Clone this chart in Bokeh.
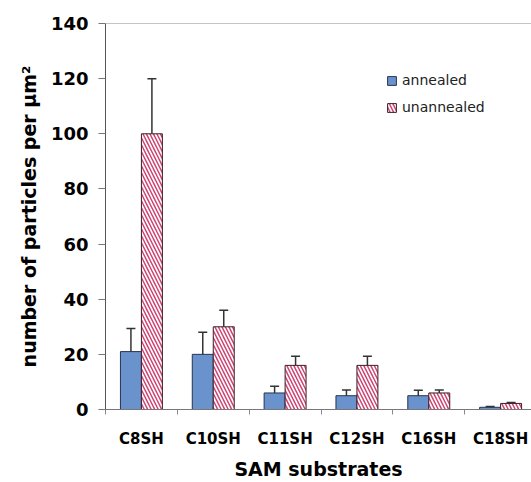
import numpy as np
from bokeh.plotting import figure
from bokeh.models import (ColumnDataSource, Range1d, FixedTicker, Whisker, TeeHead, Span)
from bokeh.transform import dodge
from bokeh.embed import file_html
from bokeh.resources import INLINE

categories = ["C8SH", "C10SH", "C11SH", "C12SH", "C16SH", "C18SH"]
annealed = [21, 20, 6, 5, 5, 0.8]
annealed_err = [8.4, 8, 2.4, 2.1, 2, 0.3]
unannealed = [100, 30, 16, 16, 6, 2.2]
unannealed_err = [20, 6, 3.3, 3.3, 1.1, 0.3]
y_ticks = [0, 20, 40, 60, 80, 100, 120, 140]

FONT = "DejaVu Sans"
BLUE = "#6a92cc"
HATCH = "#cf4573"

x = np.arange(len(categories)) + 0.5
a = np.array(annealed, float); ae = np.array(annealed_err, float)
u = np.array(unannealed, float); ue = np.array(unannealed_err, float)
src = ColumnDataSource(dict(x=x, a=a, u=u, a_lo=a - ae, a_hi=a + ae, u_lo=u - ue, u_hi=u + ue))

p = figure(width=531, height=482, output_backend="svg", toolbar_location=None,
           x_range=Range1d(0, 5.93), y_range=Range1d(0, 140),
           min_border_left=105, min_border_top=23, min_border_right=0, min_border_bottom=73)
p.outline_line_color = None
p.xgrid.visible = False
p.ygrid.visible = False
p.background_fill_color = "white"

off = 0.146
bw = 0.292
p.vbar(x=dodge("x", -off), top="a", width=bw, source=src, fill_color=BLUE,
       line_color="#27344f", line_width=1, legend_label="annealed")
p.vbar(x=dodge("x", off), top="u", width=bw, source=src, fill_color="white",
       hatch_pattern="\\", hatch_color=HATCH, hatch_scale=7, hatch_weight=1.5,
       line_color="#3a1f2a", line_width=1, legend_label="unannealed")

for fld, lo, hi in [(-off, "a_lo", "a_hi"), (off, "u_lo", "u_hi")]:
    w = Whisker(source=src, base=dodge("x", fld), lower=lo, upper=hi,
                line_color="#333333", line_width=1.5,
                lower_head=TeeHead(size=9, line_color="#333333", line_width=1.5),
                upper_head=TeeHead(size=9, line_color="#333333", line_width=1.5))
    p.add_layout(w)

p.add_layout(Span(location=y_ticks[-1], dimension="width", line_color="#8a8a8a", line_width=1))

# y axis
yax = p.yaxis[0]
yax.ticker = FixedTicker(ticks=y_ticks)
yax.minor_tick_line_color = None
yax.major_tick_out = 7
yax.major_tick_in = 0
yax.major_label_standoff = 10
yax.axis_line_color = "#555555"
yax.major_tick_line_color = "#777777"
yax.major_label_text_font = FONT
yax.major_label_text_font_style = "bold"
yax.major_label_text_font_size = "18px"
yax.major_label_text_color = "black"
yax.axis_label = "number of particles per \u03bcm\u00b2"
yax.axis_label_text_font = FONT
yax.axis_label_text_font_style = "bold"
yax.axis_label_text_font_size = "19px"
yax.axis_label_text_color = "black"
yax.axis_label_standoff = 8

# x axis
xax = p.xaxis[0]
xax.ticker = FixedTicker(ticks=list(x), minor_ticks=list(range(len(categories) + 1)))
xax.major_label_overrides = {float(v): c for v, c in zip(x, categories)}
xax.major_tick_out = 0
xax.major_tick_in = 0
xax.minor_tick_out = 5
xax.minor_tick_in = 0
xax.minor_tick_line_color = "#888888"
xax.axis_line_color = "#777777"
xax.major_label_standoff = 15
xax.major_label_text_font = FONT
xax.major_label_text_font_style = "bold"
xax.major_label_text_font_size = "15px"
xax.major_label_text_color = "black"
xax.axis_label = "SAM substrates"
xax.axis_label_text_font = FONT
xax.axis_label_text_font_style = "bold"
xax.axis_label_text_font_size = "19px"
xax.axis_label_text_color = "black"
xax.axis_label_standoff = 7

lg = p.legend[0]
lg.location = (281, 294)
lg.border_line_color = None
lg.background_fill_alpha = 0
lg.padding = 0
lg.margin = 0
lg.spacing = 11
lg.glyph_width = 11
lg.glyph_height = 11
lg.label_height = 14
lg.label_standoff = 5
lg.label_text_font = FONT
lg.label_text_font_size = "14px"
lg.label_text_color = "#222222"

open("out.html", "w").write(file_html(p, INLINE))
